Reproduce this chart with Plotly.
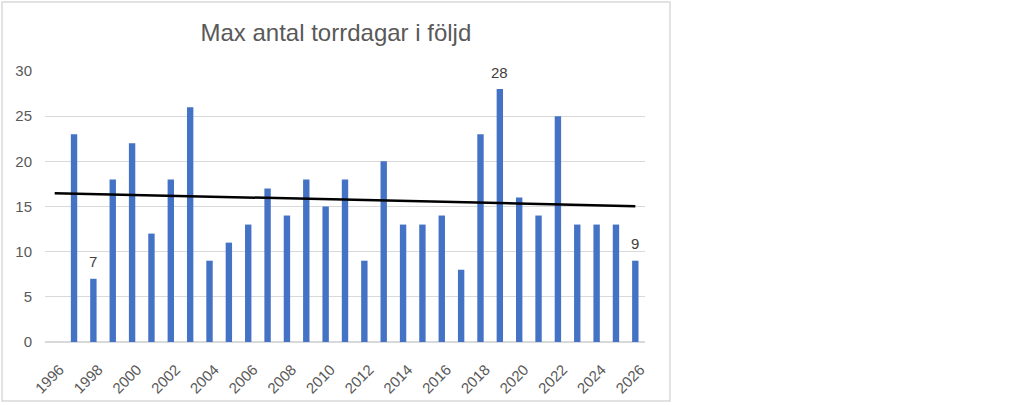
import numpy as np
import plotly.graph_objects as go

# data
years = list(range(1997, 2027))
max_dry_days = [23, 7, 18, 22, 12, 18, 26, 9, 11, 13,
                17, 14, 18, 15, 18, 9, 20, 13, 13, 14,
                8, 23, 28, 16, 14, 25, 13, 13, 13, 9]
labelled_years = [1998, 2019, 2026]
tick_years = list(range(1996, 2027, 2))
trend_span = [1996, 2026]

title_text = "Max antal torrdagar i följd"

# linear trendline (least squares over the series)
slope, intercept = np.polyfit(years, max_dry_days, 1)
trend_y = [slope * x + intercept for x in trend_span]

fig = go.Figure()
fig.add_trace(
    go.Bar(
        x=years,
        y=max_dry_days,
        width=0.33,
        marker=dict(color="#4472C4", line=dict(width=0)),
        showlegend=False,
        hoverinfo="x+y",
    )
)
fig.add_trace(
    go.Scatter(
        x=trend_span,
        y=trend_y,
        mode="lines",
        line=dict(color="black", width=2.5),
        showlegend=False,
        hoverinfo="skip",
    )
)

annotations = []
for yr, val in zip(years, max_dry_days):
    if yr in labelled_years:
        annotations.append(
            dict(
                x=yr,
                y=val,
                xref="x",
                yref="y",
                text=str(val),
                showarrow=False,
                yshift=17,
                font=dict(size=15, color="#404040"),
            )
        )

fig.update_layout(
    width=1024,
    height=405,
    paper_bgcolor="white",
    plot_bgcolor="white",
    font=dict(family="Liberation Sans, Arial", size=15, color="#595959"),
    margin=dict(l=45, r=379, t=71, b=63, autoexpand=False),
    title=dict(
        text=title_text,
        x=0.328,
        xanchor="center",
        y=1 - 33 / 405,
        yanchor="middle",
        font=dict(size=24, color="#595959"),
    ),
    bargap=0.6,
    annotations=annotations,
    shapes=[
        dict(
            type="rect",
            xref="paper",
            yref="paper",
            x0=-0.0717,
            x1=1.0417,
            y0=-0.2177,
            y1=1.2546,
            line=dict(color="#d9d9d9", width=1.5),
            fillcolor="rgba(0,0,0,0)",
            layer="below",
        )
    ],
)
fig.update_xaxes(
    range=[1995.5, 2026.5],
    tickmode="array",
    tickvals=tick_years,
    ticktext=[str(y) for y in tick_years],
    tickangle=-45,
    showgrid=False,
    showline=False,
    zeroline=False,
    ticks="",
    automargin=False,
    ticklabelstandoff=15,
    ticklabelshift=5,
    tickfont=dict(size=15, color="#595959"),
)
fig.update_yaxes(
    range=[0, 30],
    tickvals=[0, 5, 10, 15, 20, 25, 30],
    showgrid=True,
    gridcolor="#d9d9d9",
    gridwidth=1,
    zeroline=True,
    zerolinecolor="#d9d9d9",
    zerolinewidth=1.5,
    showline=False,
    ticks="",
    automargin=False,
    ticklabelstandoff=12,
    tickfont=dict(size=15, color="#595959"),
)

# the page body has a default 8px margin; drop it so the figure sits at (0, 0)
fig.write_html(
    "out.html",
    config={"displayModeBar": False},
    post_script="document.body.style.margin = '0px';",
)
